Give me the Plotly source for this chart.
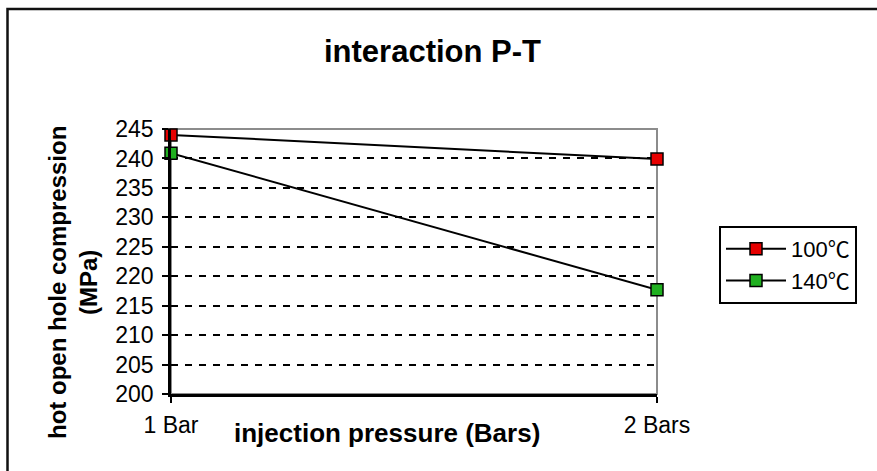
import plotly.graph_objects as go

categories = ["1 Bar", "2 Bars"]
series_names = ["100℃", "140℃"]
values_100 = [244.0, 239.9]
values_140 = [240.9, 217.7]
y_ticks = [200, 205, 210, 215, 220, 225, 230, 235, 240, 245]
grid_ticks = [205, 210, 215, 220, 225, 230, 235, 240]

FONT = "Arial, 'Liberation Sans', sans-serif"
LEG_FONT = "Arial, 'Liberation Sans', 'Noto Sans CJK SC', sans-serif"


def legend_label(name):
    # render the degree-Celsius sign with a CJK font, like the original
    return name.replace("℃", "<span style=\"font-family:'Noto Sans CJK SC'\">℃</span>")


# plot area in pixels
L, R, T, B = 171, 657, 129, 394
W, H = R - L, B - T
def px(x):
    return (x - L) / W
def py(y):
    return (B - y) / H

fig = go.Figure()
colors = ["#e60000", "#20b020"]
for name, vals, col in zip(series_names, [values_100, values_140], colors):
    fig.add_trace(go.Scatter(
        x=categories, y=vals, mode="lines+markers", name=legend_label(name),
        line=dict(color="black", width=2),
        marker=dict(symbol="square", size=12, color=col,
                    line=dict(color="black", width=1.5)),
        cliponaxis=False,
    ))

fig.update_layout(
    width=877, height=471,
    margin=dict(l=L, r=877 - R, t=T, b=471 - B, pad=0),
    paper_bgcolor="white", plot_bgcolor="white",
    font=dict(family=FONT, color="black", size=22),
    showlegend=True,
    legend=dict(
        x=px(719), y=py(226), xanchor="left", yanchor="top",
        bordercolor="black", borderwidth=2, bgcolor="white",
        font=dict(family=LEG_FONT, size=22, color="black"),
        itemwidth=60, tracegroupgap=0,
    ),
    xaxis=dict(
        type="category", range=[0, 1],
        showline=True, linecolor="black", linewidth=2.5,
        ticks="outside", ticklen=6, tickwidth=1.5, tickcolor="black",
        ticklabelstandoff=3,
        showgrid=False, zeroline=False,
        tickfont=dict(family=FONT, size=23, color="black"),
    ),
    yaxis=dict(
        range=[200, 245], tickmode="array", tickvals=y_ticks,
        showline=True, linecolor="black", linewidth=2.5,
        ticks="outside", ticklen=6, tickwidth=1.5, tickcolor="black",
        ticklabelstandoff=4,
        showgrid=False, zeroline=False,
        tickfont=dict(family=FONT, size=23, color="black"),
        minor=dict(tickmode="array", tickvals=grid_ticks, showgrid=True,
                   gridcolor="black", gridwidth=2, griddash="7px,7px",
                   ticks=""),
    ),
    shapes=[
        # plot area border (top/right gray)
        dict(type="rect", xref="paper", yref="paper", x0=0, x1=1, y0=0, y1=1,
             line=dict(color="#8c8c8c", width=2), layer="below"),
        # outer chart frame
        dict(type="rect", xref="paper", yref="paper",
             x0=px(7.5), x1=px(885), y0=py(480), y1=py(9),
             line=dict(color="#111111", width=2.5), layer="above"),
    ],
    annotations=[
        dict(text="<b>interaction P-T</b>", xref="paper", yref="paper",
             x=px(432), y=py(51), xanchor="center", yanchor="middle",
             showarrow=False, font=dict(family=FONT, size=31, color="black")),
        dict(text="<b>hot open hole compression<br>(MPa)</b>", xref="paper", yref="paper",
             x=px(73), y=py(283), xanchor="center", yanchor="middle", textangle=-90,
             showarrow=False, font=dict(family=FONT, size=24, color="black")),
        dict(text="<b>injection pressure (Bars)</b>", xref="paper", yref="paper",
             x=px(387), y=py(433), xanchor="center", yanchor="middle",
             showarrow=False, font=dict(family=FONT, size=26, color="black")),
    ],
)

fig.write_html(
    "out.html",
    config={"displayModeBar": False},
    post_script="document.body.style.margin='0';document.body.style.overflow='hidden';",
)
